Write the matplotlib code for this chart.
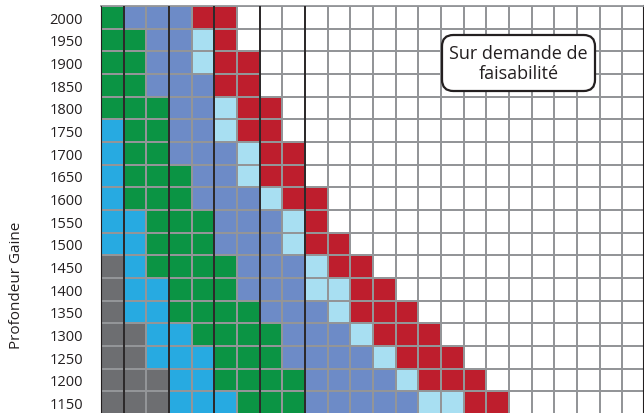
import matplotlib
matplotlib.use("Agg")
import matplotlib.pyplot as plt
import numpy as np
from matplotlib.colors import ListedColormap
from matplotlib.patches import FancyBboxPatch

# --- data -------------------------------------------------------------------
depths = [2000, 1950, 1900, 1850, 1800, 1750, 1700, 1650, 1600,
          1550, 1500, 1450, 1400, 1350, 1300, 1250, 1200, 1150]

# one string per depth, one letter per column (remaining columns are white)
# K = gris, C = cyan, G = vert, P = bleu lavande, L = bleu clair, R = rouge
cells = [
    "GPPPRR",
    "GGPPLR",
    "GGPPLRR",
    "GGPPPRR",
    "GGGPPLRR",
    "CGGPPLRR",
    "CGGPPPLRR",
    "CGGGPPLRR",
    "CGGGPPPLRR",
    "CCGGGPPPLR",
    "CCGGGPPPLRR",
    "KCGGGGPPPLRR",
    "KCCGGGPPPLLRR",
    "KCCGGGGPPPLRRR",
    "KKCCGGGGPPPLRRR",
    "KKCCCGGGPPPPLRRR",
    "KKKCCGGGGPPPPLRRR",
    "KKKCCCGGGPPPPPLLRR",
]
n_cols = 24
thick_lines = [0, 1, 3, 5, 7, 9]
note = "Sur demande de\nfaisabilité"

# --- styles -----------------------------------------------------------------
codes = "WKCGPLR"
colors = ["#ffffff", "#6d6e71", "#27aae1", "#0b9444", "#6d8bc7", "#a8dff2", "#be1e2d"]
grid_gray = "#939598"
font = "Open Sans"

grid = np.zeros((len(depths), n_cols), dtype=int)
for i, row in enumerate(cells):
    for j, c in enumerate(row):
        grid[i, j] = codes.index(c)

W, H = 644, 414
fig = plt.figure(figsize=(W / 100, H / 100), dpi=100)
cell = 22.66
left, top = 101, 7
ax = fig.add_axes([left / W, 0, 1 - left / W, 1 - top / H])

ax.pcolormesh(np.arange(n_cols + 1), np.arange(len(depths) + 1), grid,
              cmap=ListedColormap(colors), vmin=0, vmax=len(colors) - 1,
              edgecolors=grid_gray, linewidth=1.3)
for x in thick_lines:
    ax.axvline(x, color="#231f20", linewidth=1.3, zorder=3)

ax.set_xlim(0, (W - left) / cell)
ax.set_ylim((H - top) / cell, 0)

ax.set_yticks(np.arange(len(depths)) + 0.5)
ax.set_yticklabels([str(d) for d in depths], fontsize=10.5, family=font)
ax.tick_params(axis="y", length=0, pad=13, colors="#231f20")
ax.set_xticks([])
ax.spines["bottom"].set_visible(False)
ax.spines["top"].set_color(grid_gray)
ax.spines["top"].set_linewidth(1.3)
ax.spines["left"].set_color("#231f20")
ax.spines["right"].set_color("#231f20")
ax.spines["right"].set_linewidth(1.5)

fig.text(17 / W, 1 - 285 / H, "Profondeur Gaine", rotation=90, ha="center",
         va="center", fontsize=11, family=font, color="#231f20")

# note box
bx0, by0 = (442 - left) / cell, (36 - top) / cell
bw, bh = 153 / cell, 56 / cell
box = FancyBboxPatch((bx0, by0), bw, bh, boxstyle="round,pad=0,rounding_size=0.5",
                     facecolor="white", edgecolor="#231f20", linewidth=1.6, zorder=4)
ax.add_patch(box)
ax.text(bx0 + bw / 2, by0 + bh / 2, note, ha="center", va="center",
        fontsize=13, family=font, color="#231f20", zorder=5, linespacing=1.2)

fig.savefig("out.png", dpi=100)
